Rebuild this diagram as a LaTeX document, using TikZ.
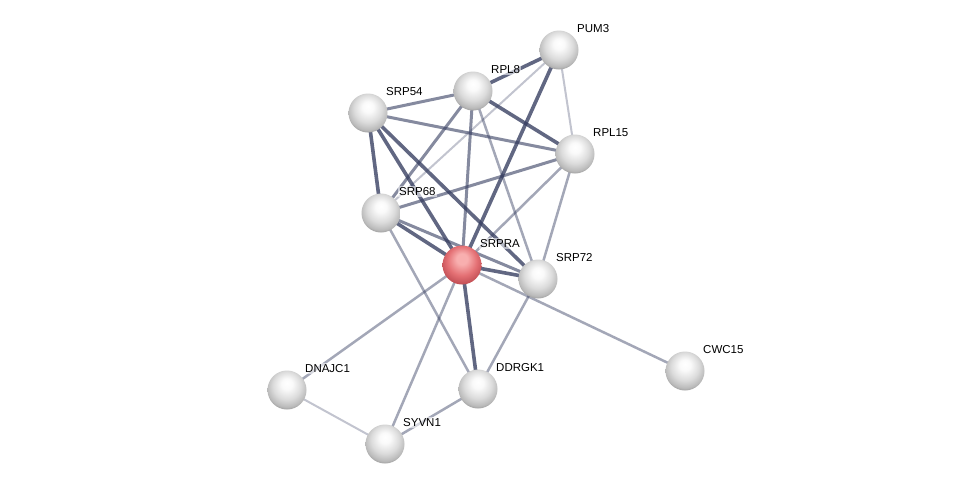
\documentclass[tikz,border=0pt]{standalone}
\usepackage{fontspec}
\setmainfont{Liberation Sans}
\usetikzlibrary{shadings}
\definecolor{edgecol}{RGB}{52,60,95}
\definecolor{rA}{RGB}{248,175,175}
\definecolor{rB}{RGB}{228,112,116}
\definecolor{rC}{RGB}{195,80,86}
\definecolor{rD}{RGB}{140,55,60}
\pgfdeclareradialshading{sphere}{\pgfpoint{0bp}{9bp}}{color(0bp)=(white); color(7bp)=(black!2); color(18bp)=(black!14); color(26bp)=(black!27); color(31bp)=(black!45); color(34bp)=(black!58); color(50bp)=(black!58)}
\pgfdeclareradialshading{spherered}{\pgfpoint{0bp}{9bp}}{color(0bp)=(rA); color(7bp)=(rA); color(19bp)=(rB); color(28bp)=(rC); color(34bp)=(rD); color(50bp)=(rD)}
\tikzset{
  prot/.style={circle, minimum size=39pt, inner sep=0pt, shading=sphere},
  protq/.style={circle, minimum size=39pt, inner sep=0pt, shading=spherered},
  lab/.style={anchor=base west, inner sep=1pt, fill=white, fill opacity=0.55, text opacity=1, font=\fontsize{11.5pt}{12pt}\selectfont, text=black},
  ea/.style={draw=edgecol, line width=3.6pt, draw opacity=0.78},
  eb/.style={draw=edgecol, line width=3pt, draw opacity=0.6},
  ec/.style={draw=edgecol, line width=2.5pt, draw opacity=0.45},
  ed/.style={draw=edgecol, line width=2pt, draw opacity=0.3},
}
\begin{document}
\begin{tikzpicture}[x=1pt,y=-1pt]
\useasboundingbox (0,0) rectangle (976,488);
% node coordinates
\coordinate (cPUM3) at (559,50);
\coordinate (cRPL8) at (473,91);
\coordinate (cSRP54) at (368,113);
\coordinate (cRPL15) at (575,154);
\coordinate (cSRP68) at (381,213);
\coordinate (cSRPRA) at (462,265);
\coordinate (cSRP72) at (538,279);
\coordinate (cCWC15) at (685,371);
\coordinate (cDNAJC1) at (287,390);
\coordinate (cDDRGK1) at (478,389);
\coordinate (cSYVN1) at (385,444);
% edges
\path[ea] (cPUM3) -- (cRPL8);
\path[ea] (cPUM3) -- (cSRPRA);
\path[ea] (cRPL8) -- (cRPL15);
\path[ea] (cSRP54) -- (cSRP68);
\path[ea] (cSRP54) -- (cSRPRA);
\path[ea] (cSRP54) -- (cSRP72);
\path[ea] (cSRP68) -- (cSRPRA);
\path[ea] (cSRPRA) -- (cDDRGK1);
\path[ea] (cSRPRA) -- (cSRP72);
\path[eb] (cRPL8) -- (cSRP54);
\path[eb] (cSRP54) -- (cRPL15);
\path[eb] (cRPL8) -- (cSRP68);
\path[eb] (cRPL8) -- (cSRPRA);
\path[eb] (cRPL15) -- (cSRP68);
\path[eb] (cSRP68) -- (cSRP72);
\path[ec] (cRPL8) -- (cSRP72);
\path[ec] (cRPL15) -- (cSRPRA);
\path[ec] (cRPL15) -- (cSRP72);
\path[ec] (cSRP68) -- (cDDRGK1);
\path[ec] (cSRPRA) -- (cDNAJC1);
\path[ec] (cSRPRA) -- (cSYVN1);
\path[ec] (cSRPRA) -- (cCWC15);
\path[ec] (cSRP72) -- (cDDRGK1);
\path[ec] (cSYVN1) -- (cDDRGK1);
\path[ed] (cPUM3) -- (cSRP68);
\path[ed] (cPUM3) -- (cRPL15);
\path[ed] (cDNAJC1) -- (cSYVN1);
% nodes
\foreach \n in {PUM3,RPL8,SRP54,RPL15,SRP68,SRP72,CWC15,DNAJC1,DDRGK1,SYVN1}{
  \node[prot] (\n) at (c\n) {};
}
\node[protq] (SRPRA) at (cSRPRA) {};
\foreach \n in {PUM3,RPL8,SRP54,RPL15,SRP68,SRPRA,SRP72,CWC15,DNAJC1,DDRGK1,SYVN1}{
  \node[lab] (l\n) at ([shift={(17,-17.5)}]c\n) {\n};
}
\end{tikzpicture}
\end{document}
